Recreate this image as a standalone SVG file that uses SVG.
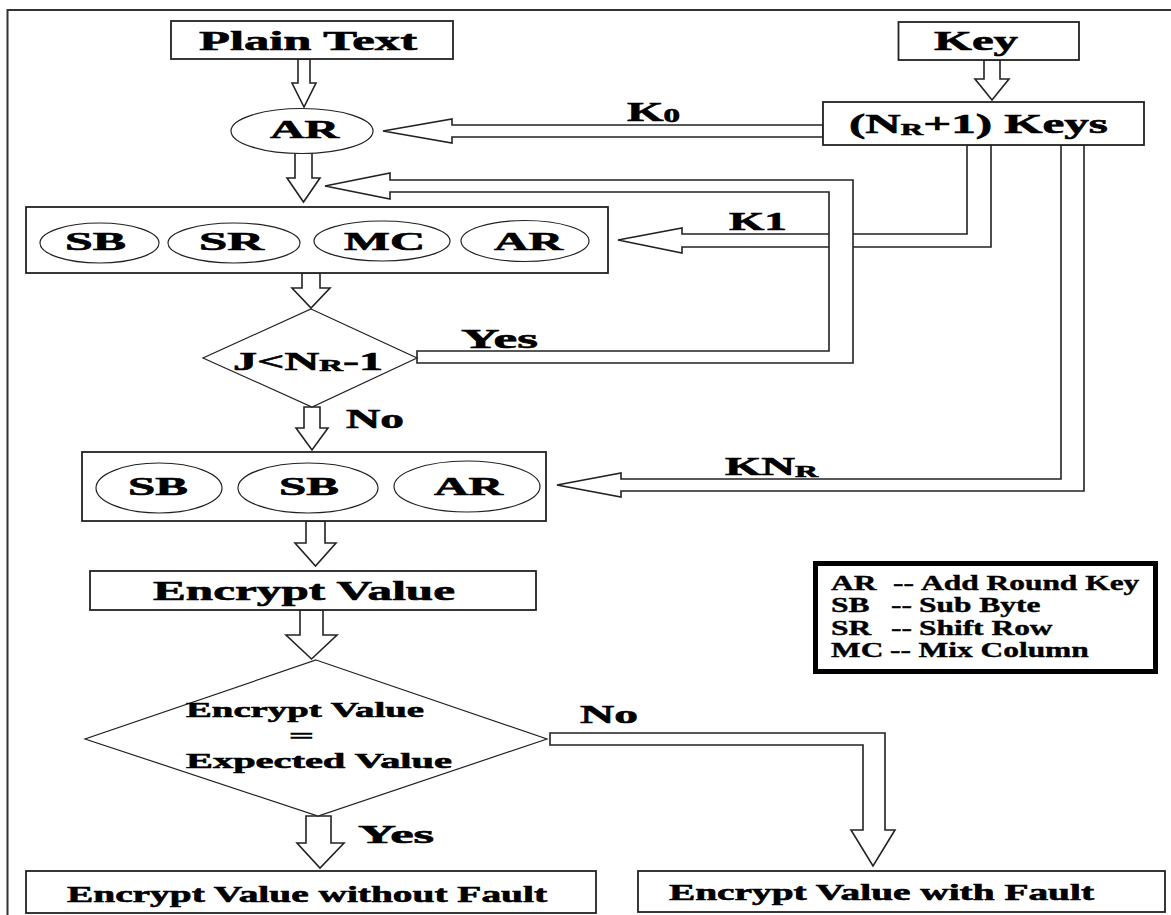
<svg xmlns="http://www.w3.org/2000/svg" width="1171" height="915" viewBox="0 0 1171 915">
<style>
.bx{fill:#fff;stroke:#222;stroke-width:1.8}
.el{fill:#fff;stroke:#222;stroke-width:1.2}
.ar{fill:#fff;stroke:#222;stroke-width:1.6;stroke-linejoin:miter}
.t{font-family:"Liberation Serif","Times New Roman",serif;font-weight:bold;fill:#000;stroke:#000;stroke-width:0.6}
.t27{font-size:27px}
.t25{font-size:25px}
.t23{font-size:23px}
.t22{font-size:22px}
.lg{font-family:"Liberation Serif","Times New Roman",serif;font-weight:bold;font-size:22px;fill:#000;stroke:#000;stroke-width:0.4}
</style>
<rect x="0" y="0" width="1171" height="915" fill="#fff"/>
<rect x="7.5" y="10" width="1200" height="950" fill="none" stroke="#333" stroke-width="2"/>

<g id="connectors">
  <polygon class="ar" points="298,59 310,59 310,83 316,83 304,107 292,83 298,83"/>
  <polygon class="ar" points="984,60 1000,60 1000,79 1009,79 992,100 975,79 984,79"/>
  <polygon class="ar" points="823,125 452,125 452,119 383,131 452,143 452,137 823,137"/>
  <polygon class="ar" points="295,153 312,153 312,178 320,178 303.5,202 287,178 295,178"/>
  <polygon class="ar" points="967,145 967,234 682,234 682,228 618,240 682,253 682,247 991,247 991,145"/>
  <polygon class="ar" points="417,363 853,363 853,180 390,180 390,173 325,186 390,199 390,192 829,192 829,351 417,351"/>
  <polygon class="ar" points="1061,145 1061,479 621,479 621,473 557,485 621,497 621,491 1084,491 1084,145"/>
  <polygon class="ar" points="302,273 320,273 320,288 330,288 311,308 292,288 302,288"/>
  <polygon class="ar" points="304,407 320,407 320,428 328,428 312,450 296,428 304,428"/>
  <polygon class="ar" points="306,521 325,521 325,543 336,543 315.5,566 295,543 306,543"/>
  <polygon class="ar" points="300,610 323,610 323,635 337,635 311.5,659 286,635 300,635"/>
  <polygon class="ar" points="550,733 885,733 885,830 895,830 873,866 851,830 863,830 863,745 550,745"/>
  <polygon class="ar" points="306,816 331,816 331,843 344,843 320,868 297,843 306,843"/>
  <text class="t t27" x="627" y="121" textLength="53" lengthAdjust="spacingAndGlyphs">K<tspan font-size="19" dy="1">0</tspan></text>
  <text class="t t25" x="729" y="230" textLength="58" lengthAdjust="spacingAndGlyphs">K1</text>
  <text class="t t27" x="461" y="348" textLength="77" lengthAdjust="spacingAndGlyphs">Yes</text>
  <text class="t t27" x="346" y="428" textLength="58" lengthAdjust="spacingAndGlyphs">No</text>
  <text class="t t25" x="725" y="475" textLength="93" lengthAdjust="spacingAndGlyphs">KN<tspan font-size="17" dy="2">R</tspan></text>
  <text class="t t25" x="580" y="723" textLength="58" lengthAdjust="spacingAndGlyphs">No</text>
  <text class="t t25" x="358" y="843" textLength="76" lengthAdjust="spacingAndGlyphs">Yes</text>
</g>

<g id="plain-text">
  <rect class="bx" x="171" y="21" width="282" height="38"/>
  <text class="t t27" x="199" y="50" textLength="218" lengthAdjust="spacingAndGlyphs">Plain Text</text>
</g>
<g id="key">
  <rect class="bx" x="898.5" y="22" width="180.5" height="38"/>
  <text class="t t27" x="934" y="50" textLength="84" lengthAdjust="spacingAndGlyphs">Key</text>
</g>
<g id="round-keys">
  <rect class="bx" x="823" y="102" width="321" height="43"/>
  <text class="t t27" x="849" y="133" textLength="259" lengthAdjust="spacingAndGlyphs">(N<tspan font-size="17" dy="2">R</tspan><tspan dy="-2">+1) Keys</tspan></text>
</g>
<g id="ar0">
  <ellipse class="el" cx="302" cy="131" rx="71" ry="22.5"/>
  <text class="t t25" x="270" y="138" textLength="69" lengthAdjust="spacingAndGlyphs">AR</text>
</g>
<g id="round">
  <rect class="bx" x="26" y="207" width="582" height="66"/>
  <ellipse class="el" cx="99.5" cy="243" rx="59.5" ry="20"/>
  <ellipse class="el" cx="234" cy="243" rx="66" ry="20"/>
  <ellipse class="el" cx="382" cy="241" rx="68" ry="20"/>
  <ellipse class="el" cx="525" cy="241" rx="64" ry="20.5"/>
  <text class="t t25" x="65" y="250" textLength="61" lengthAdjust="spacingAndGlyphs">SB</text>
  <text class="t t25" x="199" y="250" textLength="65" lengthAdjust="spacingAndGlyphs">SR</text>
  <text class="t t25" x="344" y="250" textLength="81" lengthAdjust="spacingAndGlyphs">MC</text>
  <text class="t t25" x="494" y="250" textLength="69" lengthAdjust="spacingAndGlyphs">AR</text>
</g>
<g id="loop-check">
  <polygon class="bx" style="stroke-width:1.2" points="311,309 417,358 312,407 203,358"/>
  <text class="t t25" x="233" y="370" textLength="150" lengthAdjust="spacingAndGlyphs">J&lt;N<tspan font-size="17" dy="1">R</tspan><tspan dy="-1">-1</tspan></text>
</g>
<g id="final-round">
  <rect class="bx" x="82" y="452" width="464" height="69"/>
  <ellipse class="el" cx="159" cy="488" rx="63" ry="25"/>
  <ellipse class="el" cx="308" cy="488" rx="70" ry="25"/>
  <ellipse class="el" cx="467" cy="486.5" rx="73" ry="25.5"/>
  <text class="t t25" x="128" y="495" textLength="60" lengthAdjust="spacingAndGlyphs">SB</text>
  <text class="t t25" x="279" y="495" textLength="60" lengthAdjust="spacingAndGlyphs">SB</text>
  <text class="t t25" x="434" y="495" textLength="69" lengthAdjust="spacingAndGlyphs">AR</text>
</g>
<g id="encrypt-value">
  <rect class="bx" x="90" y="571" width="446" height="39"/>
  <text class="t t27" x="153" y="600" textLength="302" lengthAdjust="spacingAndGlyphs">Encrypt Value</text>
</g>
<g id="compare">
  <polygon class="bx" style="stroke-width:1.2" points="316,660 547,739 318,816 85,739"/>
  <text class="t t22" x="186" y="717" textLength="238" lengthAdjust="spacingAndGlyphs">Encrypt Value</text>
  <text class="t t22" x="289" y="743" textLength="25" lengthAdjust="spacingAndGlyphs">=</text>
  <text class="t t22" x="186" y="768" textLength="266" lengthAdjust="spacingAndGlyphs">Expected Value</text>
</g>
<g id="without-fault">
  <rect class="bx" x="26" y="871" width="570" height="42"/>
  <text class="t t23" x="67" y="902" textLength="480" lengthAdjust="spacingAndGlyphs">Encrypt Value without Fault</text>
</g>
<g id="with-fault">
  <rect class="bx" x="638" y="871" width="527" height="41"/>
  <text class="t t23" x="669" y="900" textLength="425" lengthAdjust="spacingAndGlyphs">Encrypt Value with Fault</text>
</g>
<g id="legend">
  <rect x="815.5" y="563.5" width="340" height="108" fill="#fff" stroke="#000" stroke-width="5"/>
  <g transform="translate(831 0) scale(1.43 1)">
    <text class="lg" y="590"><tspan x="0">AR</tspan><tspan x="43.4">--</tspan><tspan x="62.9">Add Round Key</tspan></text>
    <text class="lg" y="612"><tspan x="0">SB</tspan><tspan x="42">--</tspan><tspan x="61.5">Sub Byte</tspan></text>
    <text class="lg" y="635"><tspan x="0">SR</tspan><tspan x="42">--</tspan><tspan x="61.5">Shift Row</tspan></text>
    <text class="lg" y="657"><tspan x="0">MC</tspan><tspan x="41.3">--</tspan><tspan x="61.2">Mix Column</tspan></text>
  </g>
</g>
</svg>
